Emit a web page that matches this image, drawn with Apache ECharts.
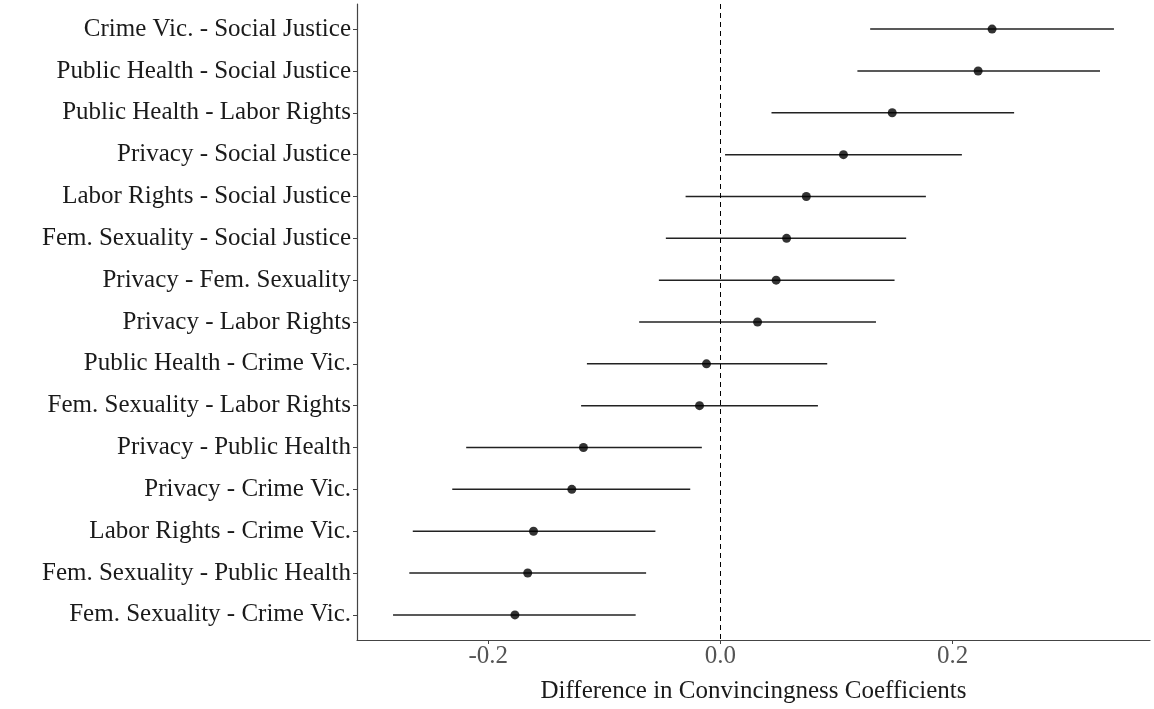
<!DOCTYPE html>
<html>
<head>
<meta charset="utf-8">
<script src="https://cdn.jsdelivr.net/npm/echarts@6/dist/echarts.min.js"></script>
<style>html,body{margin:0;padding:0;background:#fff}#c{width:1154px;height:709px}</style>
</head>
<body>
<div id="c"></div>
<script>
const categories = [
  "Crime Vic. - Social Justice",
  "Public Health - Social Justice",
  "Public Health - Labor Rights",
  "Privacy - Social Justice",
  "Labor Rights - Social Justice",
  "Fem. Sexuality - Social Justice",
  "Privacy - Fem. Sexuality",
  "Privacy - Labor Rights",
  "Public Health - Crime Vic.",
  "Fem. Sexuality - Labor Rights",
  "Privacy - Public Health",
  "Privacy - Crime Vic.",
  "Labor Rights - Crime Vic.",
  "Fem. Sexuality - Public Health",
  "Fem. Sexuality - Crime Vic."
];
const estimates = [0.234, 0.222, 0.148, 0.106, 0.074, 0.057, 0.048, 0.032, -0.012, -0.018, -0.118, -0.128, -0.161, -0.166, -0.177];
const lower     = [0.129, 0.118, 0.044, 0.004, -0.030, -0.047, -0.053, -0.070, -0.115, -0.120, -0.219, -0.231, -0.265, -0.268, -0.282];
const upper     = [0.339, 0.327, 0.253, 0.208, 0.177, 0.160, 0.150, 0.134, 0.092, 0.084, -0.016, -0.026, -0.056, -0.064, -0.073];
const xTicks = [-0.2, 0.0, 0.2];
const xTitle = "Difference in Convincingness Coefficients";

const lo = Math.min(...lower), hi = Math.max(...upper);
const pad = (hi - lo) * 0.05;
const idx = categories.map((_, i) => i);

const chart = echarts.init(document.getElementById('c'), null, {renderer: 'canvas'});
const serif = 'Liberation Serif';
chart.setOption({
  animation: false,
  backgroundColor: '#fff',
  grid: {left: 357, right: 4, top: 4, bottom: 67, containLabel: false},
  xAxis: {
    type: 'value',
    min: lo - pad, max: hi + pad,
    splitLine: {show: false},
    axisLine: {show: true, onZero: false, lineStyle: {color: '#444', width: 1.2}},
    axisTick: {show: true, length: 4, customValues: xTicks, lineStyle: {color: '#444'}},
    axisLabel: {customValues: xTicks, formatter: v => v.toFixed(1), fontFamily: serif, fontSize: 25, color: '#555', margin: 4},
    name: xTitle, nameLocation: 'middle', nameGap: 39,
    nameTextStyle: {fontFamily: serif, fontSize: 25, color: '#1a1a1a'}
  },
  yAxis: {
    type: 'value', inverse: true,
    min: -0.6, max: categories.length - 1 + 0.6,
    splitLine: {show: false},
    axisLine: {show: true, onZero: false, lineStyle: {color: '#444', width: 1.2}},
    axisTick: {show: true, length: 4, customValues: idx, lineStyle: {color: '#444'}},
    axisLabel: {customValues: idx, formatter: v => categories[Math.round(v)], fontFamily: serif, fontSize: 25, color: '#1a1a1a', margin: 6}
  },
  series: [
    {
      type: 'custom',
      data: idx.map(i => [lower[i], upper[i], i]),
      encode: {x: [0, 1], y: 2},
      renderItem: (params, api) => {
        const a = api.coord([api.value(0), api.value(2)]);
        const b = api.coord([api.value(1), api.value(2)]);
        return {type: 'line', shape: {x1: a[0], y1: a[1], x2: b[0], y2: b[1]}, style: {stroke: '#222', lineWidth: 1.5}};
      },
      silent: true
    },
    {
      type: 'scatter',
      data: idx.map(i => [estimates[i], i]),
      symbol: 'circle', symbolSize: 9,
      itemStyle: {color: '#000'},
      z: 5,
      markLine: {
        silent: true, symbol: 'none', label: {show: false},
        lineStyle: {color: '#000', type: [5, 4], width: 1},
        data: [{xAxis: 0}]
      }
    }
  ]
});
</script>
</body>
</html>
